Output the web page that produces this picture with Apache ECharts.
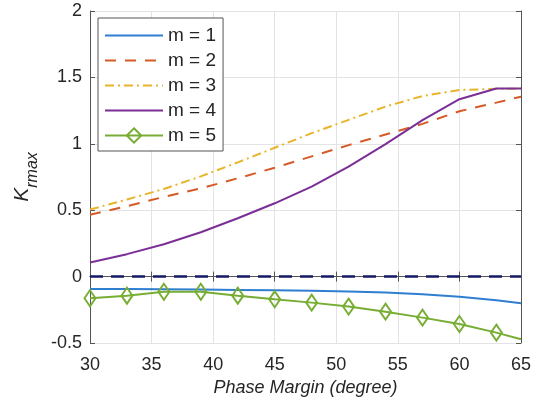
<!DOCTYPE html>
<html>
<head>
<meta charset="utf-8">
<script src="https://cdn.jsdelivr.net/npm/echarts@6/dist/echarts.min.js"></script>
<style>
html,body{margin:0;padding:0;background:#fff;}
#chart{width:545px;height:411px;}
</style>
</head>
<body>
<div id="chart"></div>
<script>
// Phase margin (degree)
const phaseMargin = [30, 33, 36, 39, 42, 45, 48, 51, 54, 57, 60, 63, 65];
const m1 = [-0.093, -0.094, -0.095, -0.097, -0.100, -0.103, -0.107, -0.112, -0.120, -0.132, -0.152, -0.178, -0.200];
const m2 = [0.465, 0.530, 0.600, 0.665, 0.740, 0.820, 0.905, 0.990, 1.070, 1.150, 1.245, 1.310, 1.355];
const m3 = [0.505, 0.580, 0.660, 0.755, 0.860, 0.970, 1.080, 1.180, 1.280, 1.360, 1.405, 1.414, 1.414];
const m4 = [0.106, 0.169, 0.244, 0.334, 0.439, 0.552, 0.677, 0.828, 0.998, 1.178, 1.336, 1.416, 1.416];
const m5 = [-0.163, -0.144, -0.114, -0.114, -0.144, -0.171, -0.196, -0.226, -0.264, -0.309, -0.357, -0.422, -0.472];
const seriesNames = ['m = 1', 'm = 2', 'm = 3', 'm = 4', 'm = 5'];
const xTicks = [30, 35, 40, 45, 50, 55, 60, 65];
const yTicks = [-0.5, 0, 0.5, 1, 1.5, 2];

const pairs = arr => phaseMargin.map((x, i) => [x, arr[i]]);
const font = '"Liberation Sans", Arial, sans-serif';
const txt = '#262626';
const hiddenSym = {color: 'rgba(0,0,0,0)', borderWidth: 0, opacity: 0};

// green series: diamonds at the 3-degree points, plain end point at 65
const m5Data = phaseMargin.map((x, i) =>
  x === 65 ? {value: [x, m5[i]], symbol: 'none'} : [x, m5[i]]);

const chart = echarts.init(document.getElementById('chart'), null, {renderer: 'canvas'});
const option = {
  animation: false,
  backgroundColor: '#fff',
  grid: {left: 90, right: 24, top: 11, bottom: 68, show: false},
  legend: {
    orient: 'vertical',
    left: 98, top: 18,
    data: [
      {name: seriesNames[0], itemStyle: hiddenSym},
      {name: seriesNames[1], itemStyle: hiddenSym},
      {name: seriesNames[2], itemStyle: hiddenSym},
      {name: seriesNames[3], itemStyle: hiddenSym},
      {name: seriesNames[4]}
    ],
    itemWidth: 58, itemHeight: 18, itemGap: 6,
    padding: [8, 7, 6, 6],
    borderColor: '#555', borderWidth: 1,
    backgroundColor: '#fff',
    textStyle: {fontFamily: font, fontSize: 19, color: txt}
  },
  xAxis: [{
    type: 'value', min: 30, max: 65, interval: 5,
    name: 'Phase Margin (degree)', nameLocation: 'middle', nameGap: 35,
    nameTextStyle: {fontFamily: font, fontSize: 18, fontStyle: 'italic', color: txt},
    axisLine: {show: true, lineStyle: {color: '#555', width: 1}},
    axisTick: {show: true, inside: true, length: 5, lineStyle: {color: '#555'}},
    axisLabel: {fontFamily: font, fontSize: 18, color: txt, margin: 13,
      formatter: v => xTicks.includes(v) ? String(v) : ''},
    splitLine: {show: true, lineStyle: {color: '#e3e3e3', width: 1}}
  }, {
    type: 'value', position: 'top', min: 30, max: 65, interval: 5,
    axisLine: {show: true, lineStyle: {color: '#555', width: 1}},
    axisTick: {show: true, inside: true, length: 5, lineStyle: {color: '#555'}},
    axisLabel: {show: false}, splitLine: {show: false}
  }],
  yAxis: [{
    type: 'value', min: -0.5, max: 2, interval: 0.5,
    name: '{k|K}{s|rmax}', nameLocation: 'middle', nameGap: 48, nameRotate: 90,
    nameTextStyle: {
      rich: {
        k: {fontFamily: font, fontSize: 21, fontStyle: 'italic', color: txt, lineHeight: 36},
        s: {fontFamily: font, fontSize: 16, fontStyle: 'italic', color: txt, lineHeight: 16, verticalAlign: 'bottom'}
      }
    },
    axisLine: {show: true, lineStyle: {color: '#555', width: 1}},
    axisTick: {show: true, inside: true, length: 5, lineStyle: {color: '#555'}},
    axisLabel: {fontFamily: font, fontSize: 18, color: txt, margin: 8,
      formatter: v => yTicks.includes(v) ? String(v) : ''},
    splitLine: {show: true, lineStyle: {color: '#e3e3e3', width: 1}}
  }, {
    type: 'value', position: 'right', min: -0.5, max: 2, interval: 0.5,
    axisLine: {show: true, lineStyle: {color: '#555', width: 1}},
    axisTick: {show: true, inside: true, length: 5, lineStyle: {color: '#555'}},
    axisLabel: {show: false}, splitLine: {show: false}
  }],
  series: [
    {
      name: seriesNames[0], type: 'line', data: pairs(m1), symbol: 'none',
      lineStyle: {color: '#2f7ed0', width: 2}, itemStyle: {color: '#2f7ed0'},
      markLine: {
        silent: true, symbol: 'none', label: {show: false},
        lineStyle: {color: '#151a66', width: 2.5, type: [13, 8]},
        data: [{yAxis: 0}]
      }
    },
    {
      name: seriesNames[1], type: 'line', data: pairs(m2), symbol: 'none',
      lineStyle: {color: '#d55a26', width: 2, type: [11, 9]}, itemStyle: {color: '#d55a26'}
    },
    {
      name: seriesNames[2], type: 'line', data: pairs(m3), symbol: 'none',
      lineStyle: {color: '#e8b42a', width: 2, type: [9, 4, 2, 4]}, itemStyle: {color: '#e8b42a'}
    },
    {
      name: seriesNames[3], type: 'line', data: pairs(m4), symbol: 'none',
      lineStyle: {color: '#7b2f96', width: 2}, itemStyle: {color: '#7b2f96'}
    },
    {
      name: seriesNames[4], type: 'line', data: m5Data,
      symbol: 'diamond', symbolSize: [11, 16], showAllSymbol: true,
      lineStyle: {color: '#77ad33', width: 2},
      itemStyle: {color: 'rgba(255,255,255,0)', borderColor: '#77ad33', borderWidth: 2}
    }
  ]
};
chart.setOption(option);
</script>
</body>
</html>
